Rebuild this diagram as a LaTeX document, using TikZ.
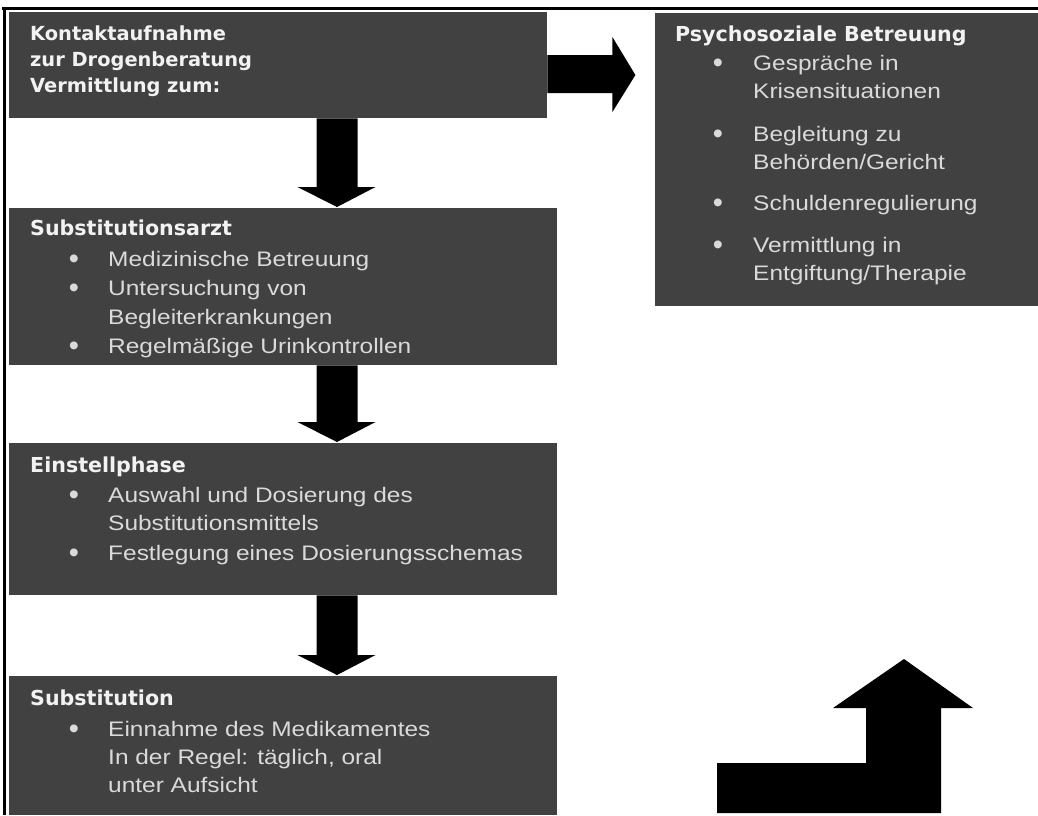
\documentclass[tikz,border=0pt]{standalone}
\usepackage{fontspec}
\usetikzlibrary{calc}
\setmainfont{Liberation Sans}
\newfontfamily\bodyfont[FakeStretch=1.165]{Liberation Sans}
\newfontfamily\bulfont{Liberation Sans}
\newfontfamily\headfont{DejaVu Sans}
\definecolor{boxgrey}{HTML}{414141}
\definecolor{bodytext}{HTML}{DADADA}
\definecolor{headtext}{HTML}{F2F2F2}
\tikzset{
  box/.style={fill=boxgrey, draw=none, inner sep=0pt, anchor=north west},
  head/.style={anchor=base west, inner sep=0pt, text=headtext, font=\headfont\bfseries\fontsize{20.6}{24}\selectfont},
  headsmall/.style={head, font=\headfont\bfseries\fontsize{19.4}{24}\selectfont},
  body/.style={anchor=base west, inner sep=0pt, text=bodytext, font=\bodyfont\fontsize{21}{25}\selectfont},
  bul/.style={anchor=base, inner sep=0pt, yshift=-2.5pt, text=bodytext, font=\bulfont\fontsize{29}{30}\selectfont},
  blk/.style={fill=black, draw=none},
  frameline/.style={draw=black, line width=3pt}
}
\newcommand{\blockdown}[3]{%
  \fill[blk] let \p1=(#1.south), \p2=(#2.north) in
    ({#3pt-20.5pt},{\y1}) -- ({#3pt+20.5pt},{\y1}) -- ({#3pt+20.5pt},{\y2+21pt})
    -- ({#3pt+38.5pt},{\y2+21pt}) -- ({#3pt},{\y2+1pt}) -- ({#3pt-39.5pt},{\y2+21pt})
    -- ({#3pt-20.5pt},{\y2+21pt}) -- cycle;}
\begin{document}
\begin{tikzpicture}[x=1pt,y=-1pt]
\useasboundingbox (0,0) rectangle (1038,815);
\fill[white] (0,0) rectangle (1038,815);
% frame lines
\draw[frameline] (2,8.5) -- (1038,8.5);
\draw[frameline] (4.5,7) -- (4.5,815);
% boxes
\node[box, minimum width=538pt, minimum height=106pt] (b1) at (9,12) {};
\node[box, minimum width=548pt, minimum height=157pt] (b2) at (9,208) {};
\node[box, minimum width=548pt, minimum height=152pt] (b3) at (9,443) {};
\node[box, minimum width=548pt, minimum height=139pt] (b4) at (9,676) {};
\node[box, minimum width=383pt, minimum height=293pt] (rb) at (655,13) {};
% box 1 text
\node[headsmall] (t1a) at (30,40) {Kontaktaufnahme};
\node[headsmall] (t1b) at (30,66) {zur Drogenberatung};
\node[headsmall] (t1c) at (30,92) {Vermittlung zum:};
% right box text
\node[head] (tra) at (675,41) {Psychosoziale Betreuung};
\node[bul] (rb1) at (718,70) {•};
\node[body] (tr1) at (753,70) {Gespräche in};
\node[body] (tr2) at (753,98) {Krisensituationen};
\node[bul] (rb2) at (718,141) {•};
\node[body] (tr3) at (753,141) {Begleitung zu};
\node[body] (tr4) at (753,169) {Behörden/Gericht};
\node[bul] (rb3) at (718,210) {•};
\node[body] (tr5) at (753,210) {Schuldenregulierung};
\node[bul] (rb4) at (718,252) {•};
\node[body] (tr6) at (753,252) {Vermittlung in};
\node[body] (tr7) at (753,280) {Entgiftung/Therapie};
% box 2 text
\node[head] (t2h) at (30,235) {Substitutionsarzt};
\node[bul] (b2u1) at (74,266) {•};
\node[body] (t21) at (108,266) {Medizinische Betreuung};
\node[bul] (b2u2) at (74,295) {•};
\node[body] (t22) at (108,295) {Untersuchung von};
\node[body] (t23) at (108,324) {Begleiterkrankungen};
\node[bul] (b2u3) at (74,353) {•};
\node[body] (t24) at (108,353) {Regelmäßige Urinkontrollen};
% box 3 text
\node[head] (t3h) at (30,472) {Einstellphase};
\node[bul] (b3u1) at (74,502) {•};
\node[body] (t31) at (108,502) {Auswahl und Dosierung des};
\node[body] (t32) at (108,530) {Substitutionsmittels};
\node[bul] (b3u2) at (74,560) {•};
\node[body] (t33) at (108,560) {Festlegung eines Dosierungsschemas};
% box 4 text
\node[head] (t4h) at (30,705) {Substitution};
\node[bul] (b4u1) at (74,736) {•};
\node[body] (t41) at (108,736) {Einnahme des Medikamentes};
\node[body] (t42) at (108,764) {In der Regel: täglich, oral};
\node[body] (t43) at (108,792) {unter Aufsicht};
% down block arrows
\blockdown{b1}{b2}{337}
\blockdown{b2}{b3}{337}
\blockdown{b3}{b4}{337}
% right block arrow
\fill[blk] let \p1=(b1.east) in
  ({\x1},{-55pt}) -- ({\x1+65pt},{-55pt}) -- ({\x1+65pt},{-37pt}) -- ({\x1+88pt},{-75pt})
  -- ({\x1+65pt},{-112pt}) -- ({\x1+65pt},{-93pt}) -- ({\x1},{-93pt}) -- cycle;
% bottom-right bent arrow
\fill[blk] (717,813) -- (717,763) -- (866,763) -- (866,708) -- (833,708) -- (904,659)
  -- (973,708) -- (941,708) -- (941,813) -- cycle;
\end{tikzpicture}
\end{document}
